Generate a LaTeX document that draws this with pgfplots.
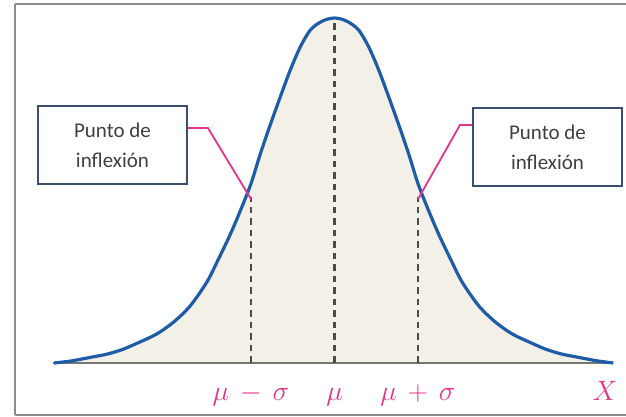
\RequirePackage{fix-cm}
\documentclass[border=0pt]{standalone}
\usepackage{fontspec}
\setsansfont{Carlito}
\usepackage{pgfplots}
\pgfplotsset{compat=1.18}
\usepackage{pgfplotstable}

\definecolor{curveblue}{HTML}{1F5CA8}
\definecolor{bellfill}{HTML}{F3F0E7}
\definecolor{pinkline}{HTML}{E5338B}
\definecolor{boxedge}{HTML}{3A4E70}
\definecolor{framegray}{HTML}{8C8C8C}
\definecolor{dashgray}{HTML}{4A4A4A}
\definecolor{textgray}{HTML}{404040}

% bell curve: x in sigma units, height relative to peak
\pgfplotstableread{
u h
-3.36 0.000
-3.15 0.006
-2.93 0.016
-2.72 0.026
-2.53 0.040
-2.33 0.061
-2.13 0.084
-1.93 0.118
-1.73 0.165
-1.53 0.234
-1.40 0.296
-1.25 0.372
-1.13 0.440
-1.00 0.520
-0.89 0.605
-0.77 0.690
-0.65 0.771
-0.53 0.849
-0.41 0.916
-0.29 0.965
-0.17 0.988
-0.08 0.997
0.00 1.000
0.08 0.997
0.17 0.988
0.29 0.965
0.41 0.916
0.53 0.849
0.65 0.771
0.77 0.690
0.89 0.605
1.00 0.520
1.13 0.440
1.25 0.372
1.40 0.296
1.53 0.234
1.73 0.165
1.93 0.118
2.13 0.084
2.33 0.061
2.53 0.040
2.72 0.026
2.93 0.016
3.15 0.006
3.34 0.000
}\bell

\begin{document}
\begin{tikzpicture}
\begin{axis}[
    scale only axis, width=560.3pt, height=345pt,
    xmin=-3.37, xmax=3.34, ymin=0, ymax=1,
    clip=false,
    axis x line*=bottom, axis y line=none,
    x axis line style={draw=none},
    xtick={-1,0,1,3.24},
    xticklabels={$\mu\,-\,\sigma$,$\mu$,$\mu\,+\,\sigma$,$X$},
    major tick length=0pt,
    xticklabel style={anchor=base, yshift=-38pt, text=pinkline,
        font=\fontsize{28}{30}\selectfont},
]
% page area and frame (no line on the right side)
\path (axis cs:-4.006,-0.1565) rectangle (axis cs:3.491,1.0522);
\begin{scope}
\clip (axis cs:-4.006,-0.1565) rectangle (axis cs:3.491,1.0522);
\draw[overlay, framegray, line width=2.5pt] (axis cs:-3.826,-0.1507) -- (axis cs:3.70,-0.1507);
\draw[overlay, framegray, line width=2.5pt] (axis cs:-3.826,1.0406) -- (axis cs:3.70,1.0406);
\draw[overlay, framegray, line width=2.5pt] (axis cs:-3.826,-0.1507) -- (axis cs:-3.826,1.0406);
\end{scope}

\addplot[draw=none, fill=bellfill, smooth] table {\bell} \closedcycle;
\addplot[framegray!85!black, line width=2.2pt] coordinates {(-3.37,0) (3.34,0)};
\addplot[dashgray, line width=2.2pt, dash pattern=on 6.5pt off 5pt] coordinates {(-1,0) (-1,0.48)};
\addplot[dashgray, line width=2.2pt, dash pattern=on 6.5pt off 5pt] coordinates {(0,0) (0,1)};
\addplot[dashgray, line width=2.2pt, dash pattern=on 6.5pt off 5pt] coordinates {(1,0) (1,0.48)};
\addplot[curveblue, line width=3.2pt, smooth] table {\bell};

\draw[pinkline, line width=1.8pt] (axis cs:-1.754,0.681) -- (axis cs:-1.515,0.681) -- (axis cs:-1.0,0.475);
\draw[pinkline, line width=1.8pt] (axis cs:1.647,0.690) -- (axis cs:1.503,0.690) -- (axis cs:1.0,0.475);

\node[draw=boxedge, line width=2.8pt, fill=white, minimum width=149pt, minimum height=78pt,
    align=center, text=textgray, font=\sffamily\fontsize{21}{30}\selectfont]
    at (axis cs:-2.659,0.632) {Punto de\\inflexión};
\node[draw=boxedge, line width=2.8pt, fill=white, minimum width=149pt, minimum height=78pt,
    align=center, text=textgray, font=\sffamily\fontsize{21}{30}\selectfont]
    at (axis cs:2.551,0.626) {Punto de\\inflexión};
\end{axis}
\end{tikzpicture}
\end{document}
